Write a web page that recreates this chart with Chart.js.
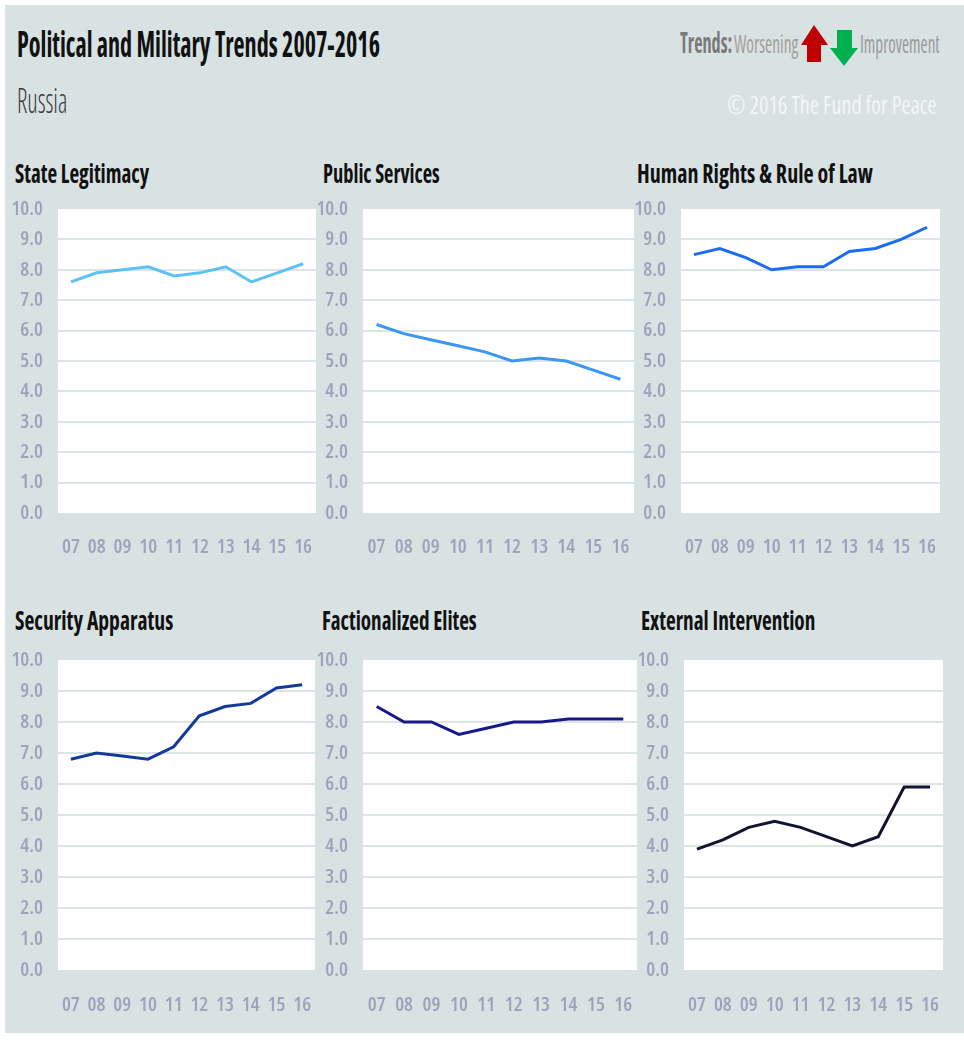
<!DOCTYPE html>
<html>
<head>
<meta charset="utf-8">
<script src="https://cdn.jsdelivr.net/npm/chart.js@4.4.0/dist/chart.umd.min.js"></script>
<style>
  body { margin: 0; width: 964px; height: 1040px; position: relative; overflow: hidden; background: #fff; font-family: "Open Sans", sans-serif; }
  #bg { position: absolute; left: 5px; top: 5px; width: 959px; height: 1028px; background: #d9e2e3; }
  .t { position: absolute; white-space: nowrap; line-height: 1; transform-origin: 0 0; font-stretch: condensed; }
  canvas { position: absolute; }
  svg { position: absolute; }
</style>
</head>
<body>
<div id="bg"></div>

<div class="t" data-w="363" style="left:17px;top:26px;font-size:36px;font-weight:700;color:#111;">Political and Military Trends 2007-2016</div>
<div class="t" data-w="50" style="left:17px;top:82px;font-size:35px;font-weight:300;color:#3a3a3a;">Russia</div>

<div class="t" data-w="52" style="left:680px;top:28px;font-size:28px;font-weight:700;color:#7a7a7a;">Trends:</div>
<div class="t" data-w="64" style="left:734px;top:31px;font-size:25px;font-weight:400;color:#a39f99;">Worsening</div>
<svg style="left:801px;top:25px" width="28" height="38"><polygon points="13,0 27,20 20,20 20,37 6,37 6,20 0,20" fill="#c00000"/></svg>
<svg style="left:830px;top:30px" width="29" height="37"><polygon points="7,0 22,0 22,18 28,18 14,36 0,18 7,18" fill="#00b04f"/></svg>
<div class="t" data-w="80" style="left:860px;top:31px;font-size:25px;font-weight:400;color:#9a9a9a;">Improvement</div>
<div class="t" data-w="210" style="left:727px;top:91px;font-size:26px;font-weight:400;color:#f3f6f6;">© 2016 The Fund for Peace</div>

<script>
// categories
const years = ["07", "08", "09", "10", "11", "12", "13", "14", "15", "16"];

// indicator scores
const stateLegitimacy = [7.6, 7.9, 8.0, 8.1, 7.8, 7.9, 8.1, 7.6, 7.9, 8.2];
const publicServices = [6.2, 5.9, 5.7, 5.5, 5.3, 5.0, 5.1, 5.0, 4.7, 4.4];
const humanRights = [8.5, 8.7, 8.4, 8.0, 8.1, 8.1, 8.6, 8.7, 9.0, 9.4];
const securityApparatus = [6.8, 7.0, 6.9, 6.8, 7.2, 8.2, 8.5, 8.6, 9.1, 9.2];
const factionalizedElites = [8.5, 8.0, 8.0, 7.6, 7.8, 8.0, 8.0, 8.1, 8.1, 8.1];
const externalIntervention = [3.9, 4.2, 4.6, 4.8, 4.6, 4.3, 4.0, 4.3, 5.9, 5.9];

const titles = ["State Legitimacy", "Public Services", "Human Rights & Rule of Law",
  "Security Apparatus", "Factionalized Elites", "External Intervention"];
const series = [stateLegitimacy, publicServices, humanRights,
  securityApparatus, factionalizedElites, externalIntervention];
const colors = ["#5cc1f7", "#3b97ef", "#1c6cf0", "#15399a", "#18188a", "#121233"];

// panel placement: plot left/right edges, title x and width, row
const panels = [
  { plotLeft: 58, plotRight: 316, tx: 15, tw: 134, row: 0 },
  { plotLeft: 363, plotRight: 634, tx: 323, tw: 117, row: 0 },
  { plotLeft: 681, plotRight: 940, tx: 637, tw: 236, row: 0 },
  { plotLeft: 58, plotRight: 315, tx: 15, tw: 158, row: 1 },
  { plotLeft: 363, plotRight: 637, tx: 322, tw: 155, row: 1 },
  { plotLeft: 684, plotRight: 943, tx: 641, tw: 174, row: 1 },
];
const rows = [
  { top: 190, plotTop: 209, plotBottom: 513, bottom: 575, titleTop: 160, labelGap: 22 },
  { top: 640, plotTop: 660, plotBottom: 970, bottom: 1030, titleTop: 607, labelGap: 23 },
];
const axisWidth = 52;

// Chart.js only accepts italic/oblique as style, so the stretch keyword rides along with the weight
const tickFont = { family: '"Open Sans", sans-serif', weight: "600 condensed", size: 20 };
const tickColor = "#9ca3bb";

const plotBackground = {
  id: "plotBackground",
  beforeDraw(chart) {
    const { ctx, chartArea: a } = chart;
    ctx.save();
    ctx.fillStyle = "#ffffff";
    ctx.fillRect(a.left, a.top, a.right - a.left, a.bottom - a.top);
    ctx.restore();
  },
};

panels.forEach((p, i) => {
  const r = rows[p.row];

  const title = document.createElement("div");
  title.className = "t";
  title.textContent = titles[i];
  title.dataset.w = p.tw;
  title.style.cssText = `left:${p.tx}px;top:${r.titleTop}px;font-size:26px;font-weight:700;color:#111;`;
  document.body.appendChild(title);

  const left = p.plotLeft - axisWidth;
  const canvas = document.createElement("canvas");
  canvas.width = p.plotRight - left + 2;
  canvas.height = r.bottom - r.top;
  canvas.style.left = left + "px";
  canvas.style.top = r.top + "px";
  document.body.appendChild(canvas);

  new Chart(canvas, {
    type: "line",
    data: {
      labels: years,
      datasets: [
        {
          label: titles[i],
          data: series[i],
          borderColor: colors[i],
          borderWidth: 3,
          pointRadius: 0,
          tension: 0,
          fill: false,
        },
      ],
    },
    options: {
      responsive: false,
      animation: false,
      layout: { padding: { top: r.plotTop - r.top, right: 2, left: 0, bottom: 0 } },
      plugins: { legend: { display: false }, tooltip: { enabled: false } },
      scales: {
        x: {
          offset: true,
          // hidden tick marks only push the year labels down
          grid: { display: false, drawTicks: true, tickLength: r.labelGap },
          border: { display: false },
          ticks: { color: tickColor, font: tickFont, padding: 0, maxRotation: 0, autoSkip: false },
          afterFit(scale) { scale.height = r.bottom - r.plotBottom; },
        },
        y: {
          min: 0,
          max: 10,
          border: { display: false },
          grid: {
            drawTicks: false,
            lineWidth: 2,
            color: (c) => (c.tick && (c.tick.value === 0 || c.tick.value === 10) ? "rgba(0,0,0,0)" : "#dde4e6"),
          },
          ticks: {
            stepSize: 1,
            color: tickColor,
            font: tickFont,
            padding: 15,
            callback: (v) => Number(v).toFixed(1),
          },
          afterFit(scale) {
            scale.width = axisWidth;
            // tick padding would otherwise also push the plot top down
            scale.paddingTop = 0;
          },
        },
      },
    },
    plugins: [plotBackground],
  });
});

// squeeze header texts to the widths of the original
document.querySelectorAll(".t").forEach((el) => {
  const w = Number(el.dataset.w);
  if (w) el.style.transform = `scaleX(${w / el.scrollWidth})`;
});
</script>
</body>
</html>
